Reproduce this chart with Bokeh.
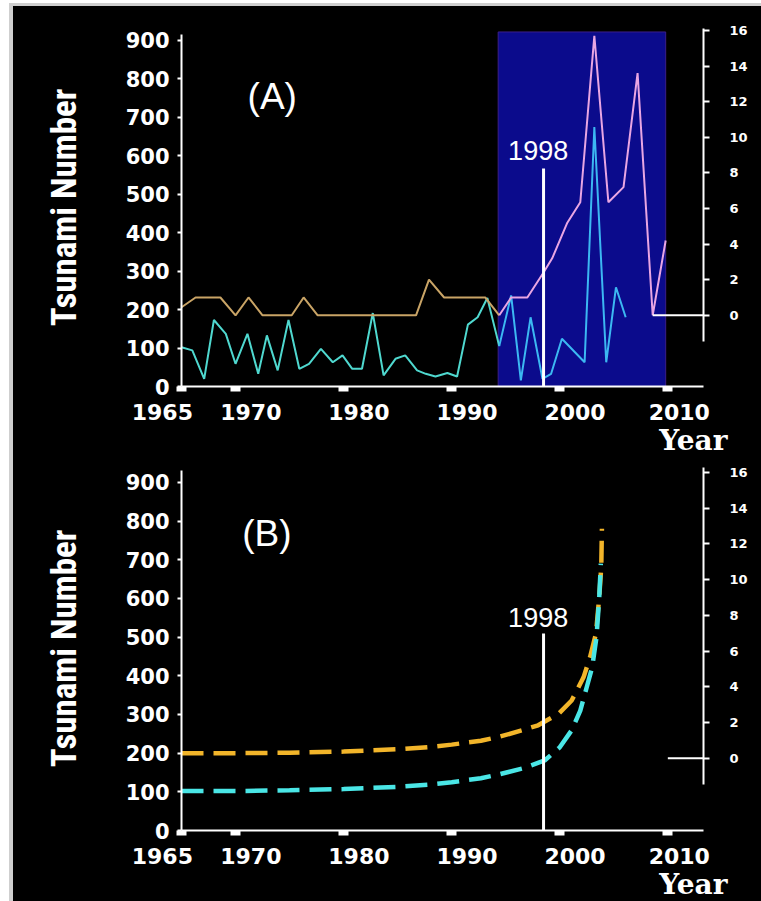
import numpy as np
from bokeh.plotting import figure
from bokeh.models import Range1d, LinearAxis, FixedTicker, Label, Title
from bokeh.layouts import column
from bokeh.embed import file_html
from bokeh.resources import INLINE

# ---------------- data ----------------
# Panel A: yearly tsunami number (left axis)
years_num = [1965.0, 1966.0, 1967.1, 1968.0, 1969.1, 1970.0, 1971.1, 1972.1, 1972.9, 1973.9,
             1974.9, 1975.9, 1976.8, 1977.9, 1979.0, 1979.9, 1980.8, 1981.7, 1982.7, 1983.7,
             1984.8, 1985.7, 1986.8, 1987.6, 1988.5, 1989.6, 1990.5, 1991.5, 1992.4, 1993.3,
             1994.4, 1995.5, 1996.4, 1997.3, 1998.4, 1999.2, 2000.2, 2002.3, 2003.2, 2004.3,
             2005.2, 2006.1]
tsunami_num = [102, 94, 20, 173, 137, 59, 137, 33, 133, 42,
               173, 46, 59, 98, 63, 81, 46, 46, 191, 29,
               72, 81, 42, 33, 26, 35, 26, 161, 180, 230,
               105, 237, 16, 180, 20, 33, 124, 63, 675, 63,
               258, 180]
# Panel A: large events (right axis)
years_big = [1965.0, 1966.3, 1968.6, 1970.0, 1971.2, 1972.5, 1975.2, 1976.3, 1977.6, 1986.7,
             1987.9, 1989.3, 1993.1, 1994.4, 1995.5, 1997.0, 1998.5, 1999.3, 2000.7, 2001.9,
             2003.2, 2004.5, 2005.9, 2007.2, 2008.6, 2009.8]
big_events = [0.45, 1, 1, 0, 1, 0, 0, 1, 0, 0,
              2, 1, 1, 0, 1, 1, 2.4, 3.2, 5.2, 6.35,
              15.7, 6.35, 7.2, 13.6, 0, 4.2]
shade_years = [1994.3, 2009.8]
shade_top = 922
zero_line_a = [2008.6, 2016]

# Panel B: fitted curves
years_fit_orange = [1965, 1970, 1975, 1980, 1985, 1988, 1990, 1992.7, 1994.5, 1996.5,
                    1998.0, 1999.9, 2001.1, 2002.2, 2002.8, 2003.35, 2003.65, 2003.84, 2003.9]
fit_orange = [200, 200, 201, 204, 210, 216, 222, 232, 243, 259,
              272, 302, 336, 396, 448, 509, 603, 681, 780]
years_fit_cyan = [1965, 1970, 1975, 1980, 1985, 1988, 1990, 1992.7, 1994.5, 1996.5,
                  1998.6, 2000.0, 2001.1, 2001.9, 2002.5, 2003.0, 2003.4, 2003.65, 2003.8]
fit_cyan = [102, 102, 104, 107, 113, 119, 125, 135, 146, 160,
            181, 215, 259, 310, 371, 422, 500, 600, 690]
zero_line_b = [2010.0, 2016]

marker_year = 1998.5
marker_top_a = 567
marker_top_b = 509
marker_text = "1998"

x_ticks = [1965, 1970, 1980, 1990, 2000, 2010]
x_tick_labels = ["1965", "1970", "1980", "1990", "2000", "2010"]
left_ticks = [0, 100, 200, 300, 400, 500, 600, 700, 800, 900]
right_ticks = [0, 2, 4, 6, 8, 10, 12, 14, 16]

# ---------------- styling ----------------
TICK_FONT = "DejaVu Sans"
LABEL_FONT = "Roboto Condensed, DejaVu Sans Condensed, Liberation Sans Narrow, Liberation Sans, sans-serif"
CYAN = "#4fd8cf"
CYAN_IN = "#3cb8f2"
TAN = "#c9a466"
PINK = "#e9a6e3"
SHADE = "#0b0b8c"
ORANGE = "#f2b52a"
CYAN_B = "#4ae6e6"
NB = "\u00a0"
# visual shift of each year label relative to its tick (in no-break spaces)
label_pad = {1965: -5, 1970: 4, 1980: 4, 1990: 4, 2000: 4, 2010: 3}


def padded(tick, text):
    n = label_pad[tick]
    return (NB * n + text) if n > 0 else (text + NB * (-n))


def make_panel(height, min_top, min_bottom, y_left, y_right, left_bounds, right_bounds):
    p = figure(width=748, height=height, output_backend="svg", toolbar_location=None,
               x_range=Range1d(1965, 2013.3), y_range=Range1d(*y_left),
               background_fill_color="black", border_fill_color="black",
               min_border_left=168, min_border_right=58,
               min_border_top=min_top, min_border_bottom=min_bottom,
               x_axis_location=None, y_axis_location=None)
    p.outline_line_color = None
    p.xgrid.visible = False
    p.ygrid.visible = False
    p.extra_y_ranges = {"right": Range1d(*y_right)}

    xa = LinearAxis(ticker=FixedTicker(ticks=x_ticks))
    xa.major_label_overrides = {t: padded(t, s) for t, s in zip(x_ticks, x_tick_labels)}
    xa.axis_line_color = "white"
    xa.axis_line_width = 2
    xa.major_tick_line_color = "white"
    xa.major_tick_line_width = 10
    xa.major_tick_out = 5
    xa.major_tick_in = 0
    xa.minor_tick_line_color = None
    xa.major_label_text_color = "white"
    xa.major_label_text_font = TICK_FONT
    xa.major_label_text_font_style = "bold"
    xa.major_label_text_font_size = "22px"
    xa.major_label_standoff = 8
    p.add_layout(xa, "below")

    ya = LinearAxis(ticker=FixedTicker(ticks=left_ticks), bounds=left_bounds)
    ya.axis_line_color = "white"
    ya.axis_line_width = 2
    ya.major_tick_line_color = "white"
    ya.major_tick_line_width = 2
    ya.major_tick_out = 4
    ya.major_tick_in = 0
    ya.minor_tick_line_color = None
    ya.major_label_text_color = "white"
    ya.major_label_text_font = TICK_FONT
    ya.major_label_text_font_style = "bold"
    ya.major_label_text_font_size = "21px"
    ya.major_label_standoff = 8
    ya.axis_label = "Tsunami Number"
    ya.axis_label_text_color = "white"
    ya.axis_label_text_font = LABEL_FONT
    ya.axis_label_text_font_style = "bold"
    ya.axis_label_text_font_size = "35px"
    ya.axis_label_standoff = 38
    p.add_layout(ya, "left")

    ra = LinearAxis(y_range_name="right", ticker=FixedTicker(ticks=right_ticks),
                    bounds=right_bounds)
    ra.axis_line_color = "white"
    ra.axis_line_width = 2
    ra.major_tick_line_color = "white"
    ra.major_tick_line_width = 2
    ra.major_tick_out = 6
    ra.major_tick_in = 0
    ra.minor_tick_line_color = None
    ra.major_label_text_color = "white"
    ra.major_label_text_font = TICK_FONT
    ra.major_label_text_font_style = "bold"
    ra.major_label_text_font_size = "13px"
    ra.major_label_standoff = 20
    p.add_layout(ra, "right")

    p.add_layout(Title(text="Year", align="right", offset=-24, standoff=-8,
                       vertical_align="top",
                       text_color="white", text_font="DejaVu Serif", text_font_style="bold",
                       text_font_size="28px"), "below")
    return p


# ---------------- Panel A ----------------
pa = make_panel(449, 22, 69, (0, 931), (-4.0, 16.11), (0, 915), (-1.45, 16.11))

pa.quad(left=[shade_years[0]], right=[shade_years[1]], bottom=[0], top=[shade_top],
        fill_color=SHADE, line_color="#3a1e8a", line_width=1)

yn = np.array(years_num)
tn = np.array(tsunami_num)
out_n = yn <= 1994.4
in_n = yn >= 1994.4
pa.line(yn[out_n], tn[out_n], line_color=CYAN, line_width=2)
pa.line(yn[in_n], tn[in_n], line_color=CYAN_IN, line_width=2)

yb = np.array(years_big)
be = np.array(big_events)
out_b = yb <= 1994.4
in_b = yb >= 1994.4
pa.line(yb[out_b], be[out_b], line_color=TAN, line_width=2, y_range_name="right")
pa.line(yb[in_b], be[in_b], line_color=PINK, line_width=2, y_range_name="right")
pa.line(zero_line_a, [0, 0], line_color="white", line_width=2, y_range_name="right")

pa.segment(x0=[marker_year], y0=[0], x1=[marker_year], y1=[marker_top_a],
           line_color="white", line_width=3)
pa.add_layout(Label(x=1998, y=614, text=marker_text, text_color="white",
                    text_font="Liberation Sans", text_font_size="27px",
                    text_align="center", text_baseline="middle"))
pa.add_layout(Label(x=1973.4, y=754, text="(A)", text_color="white",
                    text_font="Liberation Sans", text_font_size="37px",
                    text_align="center", text_baseline="middle"))

# ---------------- Panel B ----------------
pb = make_panel(446, 11, 71, (0, 941), (-4.05, 16.33), (0, 930), (-1.45, 16.3))

pb.line(years_fit_orange, fit_orange, line_color=ORANGE, line_width=4.5, line_dash="22 10")
pb.line(years_fit_cyan, fit_cyan, line_color=CYAN_B, line_width=4.5, line_dash="22 10")
pb.line(zero_line_b, [0, 0], line_color="white", line_width=2, y_range_name="right")

pb.segment(x0=[marker_year], y0=[0], x1=[marker_year], y1=[marker_top_b],
           line_color="white", line_width=3)
pb.add_layout(Label(x=1998, y=551, text=marker_text, text_color="white",
                    text_font="Liberation Sans", text_font_size="27px",
                    text_align="center", text_baseline="middle"))
pb.add_layout(Label(x=1972.9, y=767, text="(B)", text_color="white",
                    text_font="Liberation Sans", text_font_size="37px",
                    text_align="center", text_baseline="middle"))

layout = column(pa, pb, spacing=0, margin=(3, 0, 0, 9),
                styles={"border-left": "4px solid #cfcfcf", "border-top": "3px solid #cfcfcf",
                        "background-color": "black"})

open("out.html", "w").write(file_html(layout, INLINE))
